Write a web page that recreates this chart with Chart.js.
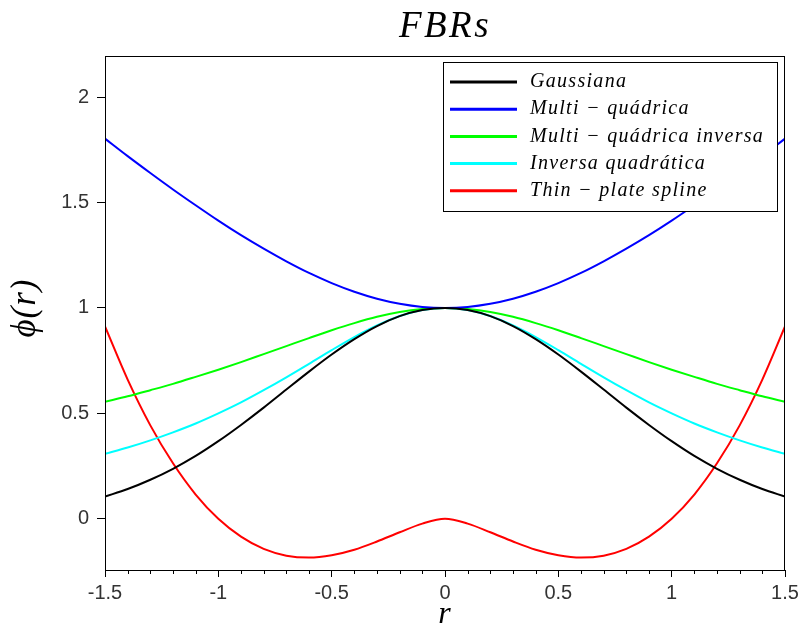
<!DOCTYPE html>
<html>
<head>
<meta charset="utf-8">
<script src="https://cdn.jsdelivr.net/npm/chart.js@4.4.1/dist/chart.umd.min.js"></script>
<style>
  html, body { margin: 0; padding: 0; background: #ffffff; }
  #wrap { width: 800px; height: 633px; }
</style>
</head>
<body>
<div id="wrap"><canvas id="fbr" width="800" height="633"></canvas></div>
<script>
// radial distance r
const rValues = [-1.5,-1.4,-1.3,-1.2,-1.1,-1.0,-0.9,-0.8,-0.7,-0.6,-0.5,-0.4,-0.3,-0.2,-0.1,0,
                 0.1,0.2,0.3,0.4,0.5,0.6,0.7,0.8,0.9,1.0,1.1,1.2,1.3,1.4,1.5];

// phi(r) for each basis function
const gaussiana = [0.105,0.141,0.185,0.237,0.298,0.368,0.445,0.527,0.613,0.698,0.779,0.852,0.914,0.961,0.990,1,
                   0.990,0.961,0.914,0.852,0.779,0.698,0.613,0.527,0.445,0.368,0.298,0.237,0.185,0.141,0.105];
const multiQuadrica = [1.803,1.720,1.640,1.562,1.487,1.414,1.345,1.281,1.221,1.166,1.118,1.077,1.044,1.020,1.005,1,
                       1.005,1.020,1.044,1.077,1.118,1.166,1.221,1.281,1.345,1.414,1.487,1.562,1.640,1.720,1.803];
const multiQuadricaInversa = [0.555,0.581,0.610,0.640,0.673,0.707,0.743,0.781,0.819,0.857,0.894,0.928,0.958,0.981,0.995,1,
                              0.995,0.981,0.958,0.928,0.894,0.857,0.819,0.781,0.743,0.707,0.673,0.640,0.610,0.581,0.555];
const inversaQuadratica = [0.308,0.338,0.372,0.410,0.452,0.500,0.552,0.610,0.671,0.735,0.800,0.862,0.917,0.962,0.990,1,
                           0.990,0.962,0.917,0.862,0.800,0.735,0.671,0.610,0.552,0.500,0.452,0.410,0.372,0.338,0.308];
const thinPlate = [0.912,0.660,0.443,0.263,0.115,0,-0.085,-0.143,-0.175,-0.184,-0.173,-0.147,-0.108,-0.064,-0.023,0,
                   -0.023,-0.064,-0.108,-0.147,-0.173,-0.184,-0.175,-0.143,-0.085,0,0.115,0.263,0.443,0.660,0.912];

const seriesLabels = ['Gaussiana', 'Multi \u2212 qu\u00e1drica', 'Multi \u2212 qu\u00e1drica inversa',
                      'Inversa quadr\u00e1tica', 'Thin \u2212 plate spline'];
const seriesColors = ['#000000', '#0000ff', '#00ff00', '#00ffff', '#ff0000'];
const seriesValues = [gaussiana, multiQuadrica, multiQuadricaInversa, inversaQuadratica, thinPlate];

const xTicks = [-1.5, -1, -0.5, 0, 0.5, 1, 1.5];
const xMinorStep = 0.1;
const yTicks = [0, 0.5, 1, 1.5, 2];

const titleText = 'FBRs';
const xTitle = 'r';
const yTitle = '\u03d5(r)';

const tickFont = { family: '"Liberation Sans", Arial, sans-serif', size: 20 };
const tickColor = '#333333';
const mathFont = '"Liberation Serif", "DejaVu Serif", "Times New Roman", serif';

// frame, minor ticks, titles and boxed legend
const decorations = {
  id: 'decorations',
  afterDraw(chart) {
    const ctx = chart.ctx;
    const a = chart.chartArea;
    const xs = chart.scales.x;
    ctx.save();

    // full box around plot area
    ctx.strokeStyle = '#000';
    ctx.lineWidth = 1;
    ctx.strokeRect(Math.round(a.left) + 0.5, Math.round(a.top) + 0.5,
                   Math.round(a.right - a.left) - 1, Math.round(a.bottom - a.top));

    // minor ticks on r axis
    ctx.beginPath();
    for (let i = -15; i <= 15; i++) {
      if (i % 5 === 0) continue;
      const px = Math.round(xs.getPixelForValue(i * xMinorStep)) + 0.5;
      ctx.moveTo(px, a.bottom);
      ctx.lineTo(px, a.bottom + 4);
    }
    ctx.stroke();

    // title
    ctx.fillStyle = '#000';
    ctx.textAlign = 'center';
    ctx.textBaseline = 'alphabetic';
    ctx.letterSpacing = '2.5px';
    ctx.font = 'italic 37px ' + mathFont;
    ctx.fillText(titleText, (a.left + a.right) / 2, 37);

    // axis titles
    ctx.letterSpacing = '1px';
    ctx.font = 'italic 32px ' + mathFont;
    ctx.fillText(xTitle, (a.left + a.right) / 2, 623);
    ctx.save();
    ctx.translate(35, 308);
    ctx.rotate(-Math.PI / 2);
    ctx.font = 'italic 35px ' + mathFont;
    ctx.fillText(yTitle, 0, 0);
    ctx.restore();

    // legend box
    const bx = 443, by = 62, bw = a.right - 8 - bx, bh = 149;
    ctx.fillStyle = '#fff';
    ctx.fillRect(bx, by, bw, bh);
    ctx.strokeStyle = '#000';
    ctx.lineWidth = 1;
    ctx.strokeRect(bx + 0.5, by + 0.5, bw, bh);

    ctx.font = 'italic 20px ' + mathFont;
    ctx.letterSpacing = '1.3px';
    ctx.textAlign = 'left';
    ctx.textBaseline = 'middle';
    chart.data.datasets.forEach((ds, i) => {
      const y = by + 20 + i * 27.2;
      ctx.strokeStyle = ds.borderColor;
      ctx.lineWidth = 3;
      ctx.beginPath();
      ctx.moveTo(450, y);
      ctx.lineTo(517, y);
      ctx.stroke();
      ctx.fillStyle = '#000';
      ctx.fillText(ds.label, 530, y);
    });
    ctx.restore();
  }
};

const datasets = seriesValues.map((vals, i) => ({
  label: seriesLabels[i],
  data: rValues.map((r, j) => ({ x: r, y: vals[j] })),
  borderColor: seriesColors[i],
  borderWidth: 2,
  pointRadius: 0,
  fill: false,
  cubicInterpolationMode: 'monotone'
}));

new Chart(document.getElementById('fbr'), {
  type: 'line',
  data: { datasets },
  options: {
    responsive: false,
    animation: false,
    layout: { padding: { top: 56, right: 15, left: 0, bottom: 0 } },
    plugins: { legend: { display: false }, title: { display: false }, tooltip: { enabled: false } },
    scales: {
      x: {
        type: 'linear',
        min: -1.5,
        max: 1.5,
        afterBuildTicks: s => { s.ticks = xTicks.map(v => ({ value: v })); },
        afterFit: s => { s.height = 63; s.paddingLeft = 0; s.paddingRight = 0; },
        grid: { display: true, drawOnChartArea: false, drawTicks: true, tickLength: 7, color: '#000' },
        border: { display: true, color: '#000', width: 1 },
        ticks: { font: tickFont, color: tickColor, padding: 4, maxRotation: 0, callback: v => String(v) }
      },
      y: {
        type: 'linear',
        min: -0.243,
        max: 2.195,
        afterBuildTicks: s => { s.ticks = yTicks.map(v => ({ value: v })); },
        afterFit: s => { s.width = 105; s.paddingTop = 0; s.paddingBottom = 0; },
        grid: { display: true, drawOnChartArea: false, drawTicks: true, tickLength: 8, color: '#000' },
        border: { display: true, color: '#000', width: 1 },
        ticks: { font: tickFont, color: tickColor, padding: 8, callback: v => String(v) }
      }
    }
  },
  plugins: [decorations]
});
</script>
</body>
</html>
